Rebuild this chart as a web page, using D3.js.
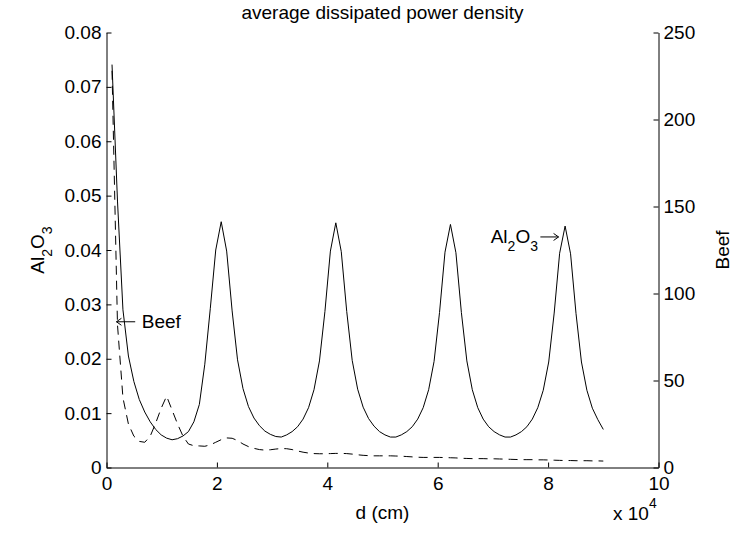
<!DOCTYPE html>
<html>
<head>
<meta charset="utf-8">
<script src="https://cdn.jsdelivr.net/npm/d3@7"></script>
<style>
  body { margin: 0; background: #fff; }
  svg text { font-family: 'Liberation Sans', Arial, Helvetica, sans-serif; fill: #000; }
</style>
</head>
<body>
<script>
// distance, in units of 10^4 cm
const dVals = [
  0.100, 0.199, 0.298, 0.397, 0.496, 0.594, 0.693, 0.792, 0.891, 0.990,
  1.089, 1.188, 1.287, 1.386, 1.484, 1.583, 1.682, 1.781, 1.880, 1.979,
  2.078, 2.177, 2.276, 2.374, 2.473, 2.572, 2.671, 2.770, 2.869, 2.968,
  3.067, 3.166, 3.264, 3.363, 3.462, 3.561, 3.660, 3.759, 3.858, 3.957,
  4.056, 4.154, 4.253, 4.352, 4.451, 4.550, 4.649, 4.748, 4.847, 4.946,
  5.044, 5.143, 5.242, 5.341, 5.440, 5.539, 5.638, 5.737, 5.836, 5.934,
  6.033, 6.132, 6.231, 6.330, 6.429, 6.528, 6.627, 6.726, 6.824, 6.923,
  7.022, 7.121, 7.220, 7.319, 7.418, 7.517, 7.616, 7.714, 7.813, 7.912,
  8.011, 8.110, 8.209, 8.308, 8.407, 8.506, 8.604, 8.703, 8.802, 8.901,
  9.000
];

// Al2O3, left axis
const al2o3 = [
  0.0741, 0.0490, 0.0290, 0.0205, 0.0158, 0.0125, 0.0102, 0.0084, 0.0070, 0.0060,
  0.0054, 0.0051, 0.0053, 0.0058, 0.0066, 0.0084, 0.0116, 0.0190, 0.0292, 0.0400,
  0.0452, 0.0398, 0.0288, 0.0198, 0.0145, 0.0112, 0.0091, 0.0077, 0.0067, 0.0061,
  0.0057, 0.0056, 0.0060, 0.0066, 0.0075, 0.0089, 0.0110, 0.0143, 0.0196, 0.0287,
  0.0398, 0.0450, 0.0397, 0.0287, 0.0197, 0.0144, 0.0111, 0.0090, 0.0076, 0.0066,
  0.0060, 0.0056, 0.0056, 0.0060, 0.0066, 0.0075, 0.0089, 0.0110, 0.0143, 0.0195,
  0.0285, 0.0396, 0.0447, 0.0395, 0.0285, 0.0196, 0.0143, 0.0110, 0.0089, 0.0075,
  0.0066, 0.0060, 0.0056, 0.0056, 0.0060, 0.0066, 0.0075, 0.0089, 0.0110, 0.0142,
  0.0194, 0.0284, 0.0394, 0.0444, 0.0393, 0.0283, 0.0194, 0.0142, 0.0109, 0.0088,
  0.0070
];

// Beef, right axis
const beef = [
  228, 82, 40, 25, 18, 15, 14.5, 18, 25.5, 34,
  41, 33, 25, 18, 13.5, 12.5, 12.4, 12.2, 13, 14.5,
  16, 17, 16.8, 15.5, 13.5, 12, 11, 10.3, 10, 10.2,
  10.6, 10.9, 10.8, 10.3, 9.5, 8.8, 8.3, 8.0, 7.9, 7.9,
  8.0, 8.1, 8.1, 8.0, 7.7, 7.3, 7.0, 6.8, 6.7, 6.7,
  6.7, 6.7, 6.6, 6.5, 6.3, 6.1, 5.9, 5.8, 5.8, 5.8,
  5.8, 5.7, 5.6, 5.5, 5.3, 5.2, 5.1, 5.1, 5.1, 5.0,
  5.0, 4.9, 4.8, 4.7, 4.6, 4.5, 4.5, 4.5, 4.4, 4.4,
  4.3, 4.2, 4.1, 4.0, 4.0, 3.9, 3.9, 3.9, 3.8, 3.8,
  3.7
];

const xTicks = [0, 2, 4, 6, 8, 10];
const leftTicks = [0, 0.01, 0.02, 0.03, 0.04, 0.05, 0.06, 0.07, 0.08];
const rightTicks = [0, 50, 100, 150, 200, 250];

const W = 733, H = 533;
const margin = { top: 32.5, right: 74.5, bottom: 65.5, left: 106.5 };
const fontSize = 19, subSize = 14;

const svg = d3.select('body').append('svg')
  .attr('width', W)
  .attr('height', H);

const x = d3.scaleLinear().domain([0, 10]).range([margin.left, W - margin.right]);
const yL = d3.scaleLinear().domain([0, 0.08]).range([H - margin.bottom, margin.top]);
const yR = d3.scaleLinear().domain([0, 250]).range([H - margin.bottom, margin.top]);

// axes, ticks pointing inward like matlab
const styleAxis = (g) => {
  g.attr('font-size', fontSize)
   .attr('font-family', "'Liberation Sans', Arial, Helvetica, sans-serif");
  g.selectAll('path, line').attr('stroke', '#000');
};

svg.append('g')
  .attr('transform', `translate(0,${H - margin.bottom})`)
  .call(d3.axisBottom(x).tickValues(xTicks).tickSizeInner(-5).tickSizeOuter(0).tickPadding(9).tickFormat(d3.format('d')))
  .call(styleAxis);

svg.append('g')
  .attr('transform', `translate(${margin.left},0)`)
  .call(d3.axisLeft(yL).tickValues(leftTicks).tickSizeInner(-5).tickSizeOuter(0).tickPadding(5)
    .tickFormat((d) => d === 0 ? '0' : d3.format('.2f')(d)))
  .call(styleAxis);

svg.append('g')
  .attr('transform', `translate(${W - margin.right},0)`)
  .call(d3.axisRight(yR).tickValues(rightTicks).tickSizeInner(-5).tickSizeOuter(0).tickPadding(5).tickFormat(d3.format('d')))
  .call(styleAxis);

// curves
const solid = d3.line().x((d) => x(d[0])).y((d) => yL(d[1]));
const dashed = d3.line().x((d) => x(d[0])).y((d) => yR(d[1]));

svg.append('path')
  .datum(d3.zip(dVals, al2o3))
  .attr('d', solid)
  .attr('fill', 'none')
  .attr('stroke', '#000')
  .attr('stroke-width', 1);

svg.append('path')
  .datum(d3.zip(dVals, beef))
  .attr('d', dashed)
  .attr('fill', 'none')
  .attr('stroke', '#000')
  .attr('stroke-width', 1)
  .attr('stroke-dasharray', '9,6');

// title and labels
const cx = (margin.left + W - margin.right) / 2;

svg.append('text')
  .attr('x', cx).attr('y', 18.5)
  .attr('text-anchor', 'middle')
  .attr('font-size', fontSize)
  .text('average dissipated power density');

svg.append('text')
  .attr('x', cx).attr('y', 519)
  .attr('text-anchor', 'middle')
  .attr('font-size', fontSize)
  .text('d (cm)');

const mult = svg.append('text')
  .attr('x', 613).attr('y', 520)
  .attr('font-size', fontSize);
mult.append('tspan').text('x 10');
mult.append('tspan').attr('font-size', subSize).attr('dy', -12).text('4');

// Al_2O_3 as tspans
const chem = (t) => {
  t.append('tspan').text('Al');
  t.append('tspan').attr('font-size', subSize).attr('dy', 8).text('2');
  t.append('tspan').attr('dy', -8).text('O');
  t.append('tspan').attr('font-size', subSize).attr('dy', 8).text('3');
};

svg.append('text')
  .attr('transform', `translate(44,${(margin.top + H - margin.bottom) / 2}) rotate(-90)`)
  .attr('text-anchor', 'middle')
  .attr('font-size', fontSize)
  .call(chem);

svg.append('text')
  .attr('transform', `translate(729,${(margin.top + H - margin.bottom) / 2}) rotate(-90)`)
  .attr('text-anchor', 'middle')
  .attr('font-size', fontSize)
  .text('Beef');

// annotations with arrows
const arrow = (x0, x1, yy) => {
  const dir = Math.sign(x0 - x1);
  svg.append('path')
    .attr('d', `M${x0},${yy}H${x1}M${x1 + dir * 5},${yy - 3.5}L${x1},${yy}L${x1 + dir * 5},${yy + 3.5}`)
    .attr('fill', 'none')
    .attr('stroke', '#000')
    .attr('stroke-width', 1);
};

const beefY = yL(0.0268);
arrow(x(0.52), x(0.18), beefY);
svg.append('text')
  .attr('x', x(0.64)).attr('y', beefY + 6.5)
  .attr('font-size', fontSize)
  .text('Beef');

const alY = yL(0.0424);
svg.append('text')
  .attr('x', x(6.96)).attr('y', alY + 6.5)
  .attr('font-size', fontSize)
  .call(chem);
arrow(x(7.86), x(8.19), alY);
</script>
</body>
</html>
